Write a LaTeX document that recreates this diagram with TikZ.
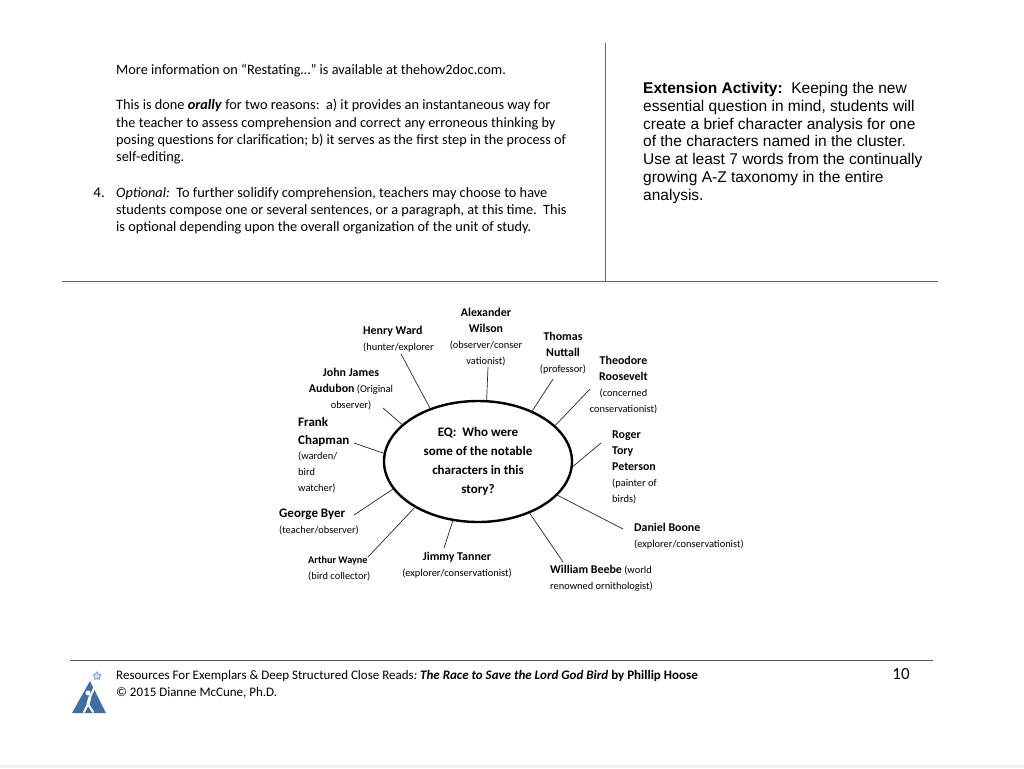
\documentclass[tikz,border=0pt]{standalone}
\usepackage{fontspec}
\setmainfont{Carlito}
\newfontfamily\arialfont{Liberation Sans}
\usetikzlibrary{shapes.geometric}
\definecolor{logoblue}{HTML}{3F6EA5}
\newcommand{\nm}[1]{{\fontsize{11.9}{16}\selectfont\bfseries #1}}
\newcommand{\bg}[1]{{\fontsize{13}{16}\selectfont\bfseries #1}}
\newcommand{\rl}[1]{{\fontsize{10.4}{16}\selectfont #1}}
\tikzset{
    bodytext/.style={anchor=north west, inner sep=0pt, align=left, font=\fontsize{14.3}{17.4}\selectfont},
    lbl/.style={inner sep=0pt, font=\fontsize{10.4}{16}\selectfont},
    spoke/.style={black!85, line width=0.7pt}
}
\begin{document}
\begin{tikzpicture}[x=1pt,y=-1pt]
    \useasboundingbox (0,0) rectangle (1024,768);
    \fill [black!6] (0,765) rectangle (1024,768);
    % bovenste tekst
    \node [bodytext] (more) at (116,64) {More information on “Restating…” is available at thehow2doc.com.};
    \node [bodytext] (orally) at (116,99) {This is done \textbf{\textit{orally}} for two reasons:\ \ a) it provides an instantaneous way for\\the teacher to assess comprehension and correct any erroneous thinking by\\posing questions for clarification; b) it serves as the first step in the process of\\self-editing.};
    \node [bodytext, anchor=north east, font=\fontsize{15}{17.4}\selectfont] (four) at (105,187.5) {4.};
    \node [bodytext] (optional) at (116,187) {\textit{Optional:}\ \ To further solidify comprehension, teachers may choose to have\\students compose one or several sentences, or a paragraph, at this time.\ \ This\\is optional depending upon the overall organization of the unit of study.};
    \node [bodytext, font=\fontsize{15.5}{17.8}\selectfont\arialfont] (ext) at (643,82) {\textbf{Extension Activity:}\ \ Keeping the new\\essential question in mind, students will\\create a brief character analysis for one\\of the characters named in the cluster.\\Use at least 7 words from the continually\\growing A-Z taxonomy in the entire\\analysis.};
    % lijnen
    \draw [black!60] (605,43) -- (605,281);
    \draw [black!60] (62,281) -- (938,281);
    % cluster
    \node [ellipse, draw, line width=2.4pt, minimum width=188pt, minimum height=121pt, inner sep=0pt, align=center, font=\fontsize{13}{19}\selectfont\bfseries] (eq) at (478,461.5) {EQ:\ \ Who were\\some of the notable\\characters in this\\story?};
    \node [lbl, align=left, anchor=north west] (ward) at (363,326) {\nm{Henry Ward}\\\rl{(hunter/explorer}};
    \node [lbl, align=center] (wilson) at (486,337) {\nm{Alexander}\\\nm{Wilson}\\\rl{(observer/conser}\\\rl{vationist)}};
    \node [lbl, align=center] (audubon) at (351,389) {\nm{John James}\\\nm{Audubon} \rl{(Original}\\\rl{observer)}};
    \node [lbl, align=left, anchor=north west] (chapman) at (298,417) {\bg{Frank}\\[2pt]\bg{Chapman}\\[-1pt]\rl{(warden/}\\\rl{bird}\\\rl{watcher)}};
    \node [lbl, align=left, anchor=north west] (byer) at (279,509) {\bg{George Byer}\\\rl{(teacher/observer)}};
    \node [lbl, align=left, anchor=north west] (wayne) at (308,556) {{\fontsize{10.2}{15}\selectfont\bfseries Arthur Wayne}\\\rl{(bird collector)}};
    \node [lbl, align=center] (tanner) at (457,565) {\nm{Jimmy Tanner}\\\rl{(explorer/conservationist)}};
    \node [lbl, align=center] (nuttall) at (563,353.5) {\nm{Thomas}\\\nm{Nuttall}\\\rl{(professor)}};
    \node [lbl, align=center] (roosevelt) at (623.5,385) {\nm{Theodore}\\\nm{Roosevelt}\\\rl{(concerned}\\\rl{conservationist)}};
    \node [lbl, align=left, anchor=north west] (peterson) at (612,430.5) {\nm{Roger}\\\nm{Tory}\\\nm{Peterson}\\\rl{(painter of}\\\rl{birds)}};
    \node [lbl, align=left, anchor=north west] (boone) at (634,523) {\nm{Daniel Boone}\\\rl{(explorer/conservationist)}};
    \node [lbl, align=left, anchor=north west] (beebe) at (550,565) {\nm{William Beebe} \rl{(world}\\\rl{renowned ornithologist)}};
    % vrije uiteinden
    \coordinate (wardend) at (401,354);
    \coordinate (wilsonend) at (488,367);
    \coordinate (audubonend) at (383,408);
    \coordinate (chapmanend) at (354,443);
    \coordinate (byerend) at (354,515);
    \coordinate (wayneend) at (368,557);
    \coordinate (tannerend) at (444,548);
    \coordinate (nuttallend) at (553,379);
    \coordinate (rooseveltend) at (590,389);
    \coordinate (petersonend) at (601,443);
    \coordinate (booneend) at (623,529);
    \coordinate (beebeend) at (563,562);
    \draw [spoke] (wardend) -- (eq.132);
    \draw [spoke] (wilsonend) -- (eq.82);
    \draw [spoke] (audubonend) -- (eq.154);
    \draw [spoke] (chapmanend) -- (eq.175);
    \draw [spoke] (byerend) -- (eq.198);
    \draw [spoke] (wayneend) -- (eq.216);
    \draw [spoke] (tannerend) -- (eq.247);
    \draw [spoke] (nuttallend) -- (eq.43);
    \draw [spoke] (rooseveltend) -- (eq.25);
    \draw [spoke] (petersonend) -- (eq.357);
    \draw [spoke] (booneend) -- (eq.337);
    \draw [spoke] (beebeend) -- (eq.315);
    % voettekst
    \draw [black!65, line width=0.8pt] (70,660) -- (933,660);
    \node [bodytext, font=\fontsize{13}{17}\selectfont] (res) at (116,670) {Resources For Exemplars \& Deep Structured Close Reads\textit{:\ \textbf{The Race to Save the Lord God Bird}} \textbf{by Phillip Hoose}\\© 2015 Dianne McCune, Ph.D.};
    \node [inner sep=0pt, font=\fontsize{17}{20}\selectfont] (page) at (901,674) {10};
    % logo
    \fill [logoblue] (72,713) -- (90,681) -- (106,713) -- cycle;
    \node [star, star points=5, draw=logoblue!60, fill=logoblue!25, line width=1pt, minimum size=8pt, inner sep=0pt] (logostar) at (97,676) {};
    \draw [white, line width=2pt, line cap=round] (96,684) -- (90,697);
    \draw [white, line width=3pt, line cap=round] (90,697) -- (88,704);
    \draw [white, line width=2pt, line cap=round] (88,704) -- (84,712);
    \draw [white, line width=2pt, line cap=round] (88,704) -- (93,712);
    \fill [white] (88,693) circle (2.5pt);
\end{tikzpicture}
\end{document}
